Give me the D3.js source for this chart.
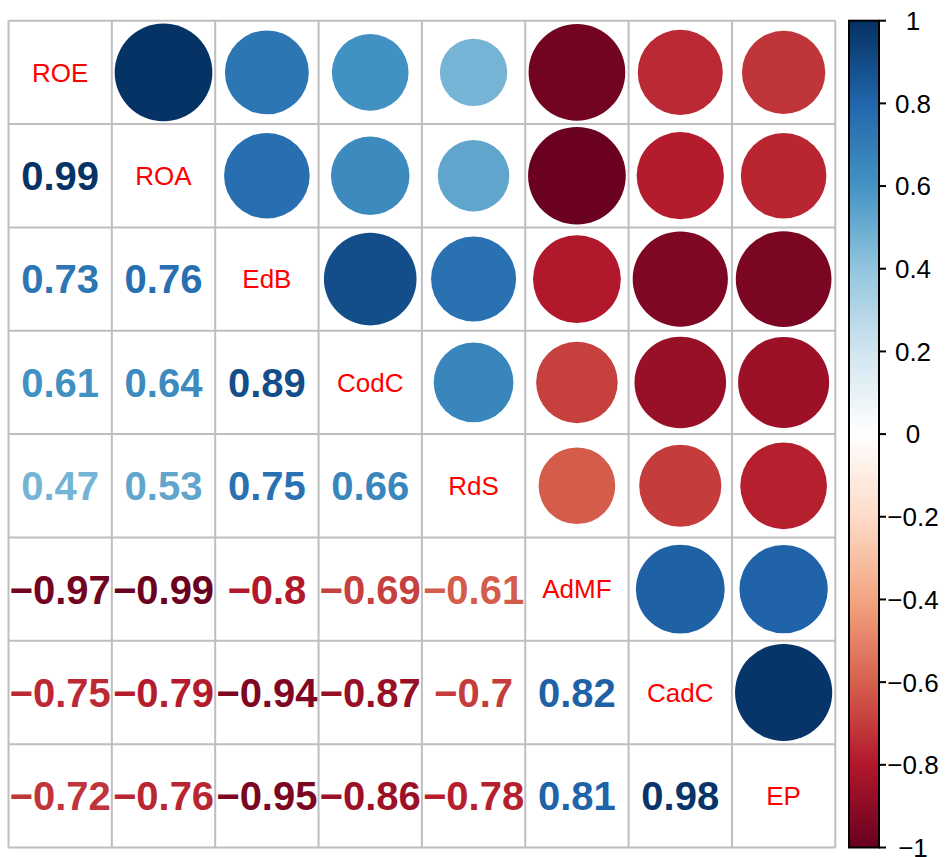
<!DOCTYPE html>
<html>
<head>
<meta charset="utf-8">
<script src="https://cdn.jsdelivr.net/npm/d3@7"></script>
<style>
  body { margin: 0; background: #fff; }
  svg { display: block; font-family: "Liberation Sans", Arial, sans-serif; }
</style>
</head>
<body>
<div id="chart"></div>
<script>
// variable names, in plot order
const vars = ["ROE", "ROA", "EdB", "CodC", "RdS", "AdMF", "CadC", "EP"];

// lower triangle of the correlation matrix, row by row
const lower = [
  [],
  [0.99],
  [0.73, 0.76],
  [0.61, 0.64, 0.89],
  [0.47, 0.53, 0.75, 0.66],
  [-0.97, -0.99, -0.8, -0.69, -0.61],
  [-0.75, -0.79, -0.94, -0.87, -0.7, 0.82],
  [-0.72, -0.76, -0.95, -0.86, -0.78, 0.81, 0.98]
];

// colour ramp stops (RdBu, -1 .. 1)
const paletteStops = ["#67001F", "#B2182B", "#D6604D", "#F4A582", "#FDDBC7", "#FFFFFF",
                      "#D1E5F0", "#92C5DE", "#4393C3", "#2166AC", "#053061"];

const legendTicks = [-1, -0.8, -0.6, -0.4, -0.2, 0, 0.2, 0.4, 0.6, 0.8, 1];

const width = 946, height = 857;
const gridLeft = 8.5, gridTop = 20.7, gridSize = 826.8;
const n = vars.length;

const corr = (i, j) => i === j ? 1 : (i > j ? lower[i][j] : lower[j][i]);

const color = d3.scaleLinear()
    .domain(d3.range(paletteStops.length).map(k => -1 + 2 * k / (paletteStops.length - 1)))
    .range(paletteStops);

const pos = d3.scaleBand().domain(d3.range(n)).range([0, gridSize]);
const cell = pos.bandwidth();

const fmt = v => String(v).replace("-", "\u2212");

const svg = d3.select("#chart").append("svg")
    .attr("width", width)
    .attr("height", height);

const g = svg.append("g").attr("transform", `translate(${gridLeft},${gridTop})`);

const cells = [];
for (let i = 0; i < n; i++) {
  for (let j = 0; j < n; j++) {
    cells.push({ i, j, v: corr(i, j) });
  }
}

// upper triangle: circles, area proportional to |r|
g.append("g").selectAll("circle")
    .data(cells.filter(d => d.j > d.i))
    .enter()
    .append("circle")
    .attr("cx", d => pos(d.j) + cell / 2)
    .attr("cy", d => pos(d.i) + cell / 2)
    .attr("r", d => Math.sqrt(Math.abs(d.v)) * cell * 0.475)
    .style("fill", d => color(d.v));

// grid
const grid = g.append("g")
    .attr("stroke", "#bebebe")
    .attr("stroke-width", 2);

grid.selectAll("line.v")
    .data(d3.range(n + 1))
    .enter()
    .append("line")
    .attr("x1", k => k * cell).attr("x2", k => k * cell)
    .attr("y1", 0).attr("y2", gridSize);

grid.selectAll("line.h")
    .data(d3.range(n + 1))
    .enter()
    .append("line")
    .attr("y1", k => k * cell).attr("y2", k => k * cell)
    .attr("x1", 0).attr("x2", gridSize);

// lower triangle: numbers
g.append("g").selectAll("text")
    .data(cells.filter(d => d.j < d.i))
    .enter()
    .append("text")
    .attr("x", d => pos(d.j) + cell / 2)
    .attr("y", d => pos(d.i) + cell / 2)
    .attr("dy", "0.36em")
    .attr("text-anchor", "middle")
    .style("font-size", "40px")
    .style("font-weight", "bold")
    .style("fill", d => color(d.v))
    .text(d => fmt(d.v));

// diagonal: variable names
g.append("g").selectAll("text")
    .data(vars)
    .enter()
    .append("text")
    .attr("x", (d, k) => pos(k) + cell / 2)
    .attr("y", (d, k) => pos(k) + cell / 2)
    .attr("dy", "0.36em")
    .attr("text-anchor", "middle")
    .style("font-size", "26px")
    .style("fill", "#ff0000")
    .text(d => d);

// colour legend
const barX = 849, barW = 30;
const legendY = d3.scaleLinear().domain([-1, 1]).range([gridTop + gridSize, gridTop]);

const grad = svg.append("defs").append("linearGradient")
    .attr("id", "rdbu")
    .attr("x1", 0).attr("x2", 0).attr("y1", 1).attr("y2", 0);

grad.selectAll("stop")
    .data(paletteStops)
    .enter()
    .append("stop")
    .attr("offset", (d, k) => k / (paletteStops.length - 1))
    .attr("stop-color", d => d);

svg.append("rect")
    .attr("x", barX)
    .attr("y", legendY(1))
    .attr("width", barW)
    .attr("height", legendY(-1) - legendY(1))
    .style("fill", "url(#rdbu)")
    .style("stroke", "#000")
    .style("stroke-width", 2);

const legendAxis = svg.append("g");

legendAxis.selectAll("line")
    .data(legendTicks)
    .enter()
    .append("line")
    .attr("x1", barX + barW)
    .attr("x2", barX + barW + 7)
    .attr("y1", d => legendY(d))
    .attr("y2", d => legendY(d))
    .style("stroke", "#000")
    .style("stroke-width", 2);

legendAxis.selectAll("text")
    .data(legendTicks)
    .enter()
    .append("text")
    .attr("x", 913)
    .attr("y", d => legendY(d))
    .attr("dy", "0.36em")
    .attr("text-anchor", "middle")
    .style("font-size", "26px")
    .style("fill", "#000")
    .text(d => fmt(d));
</script>
</body>
</html>
